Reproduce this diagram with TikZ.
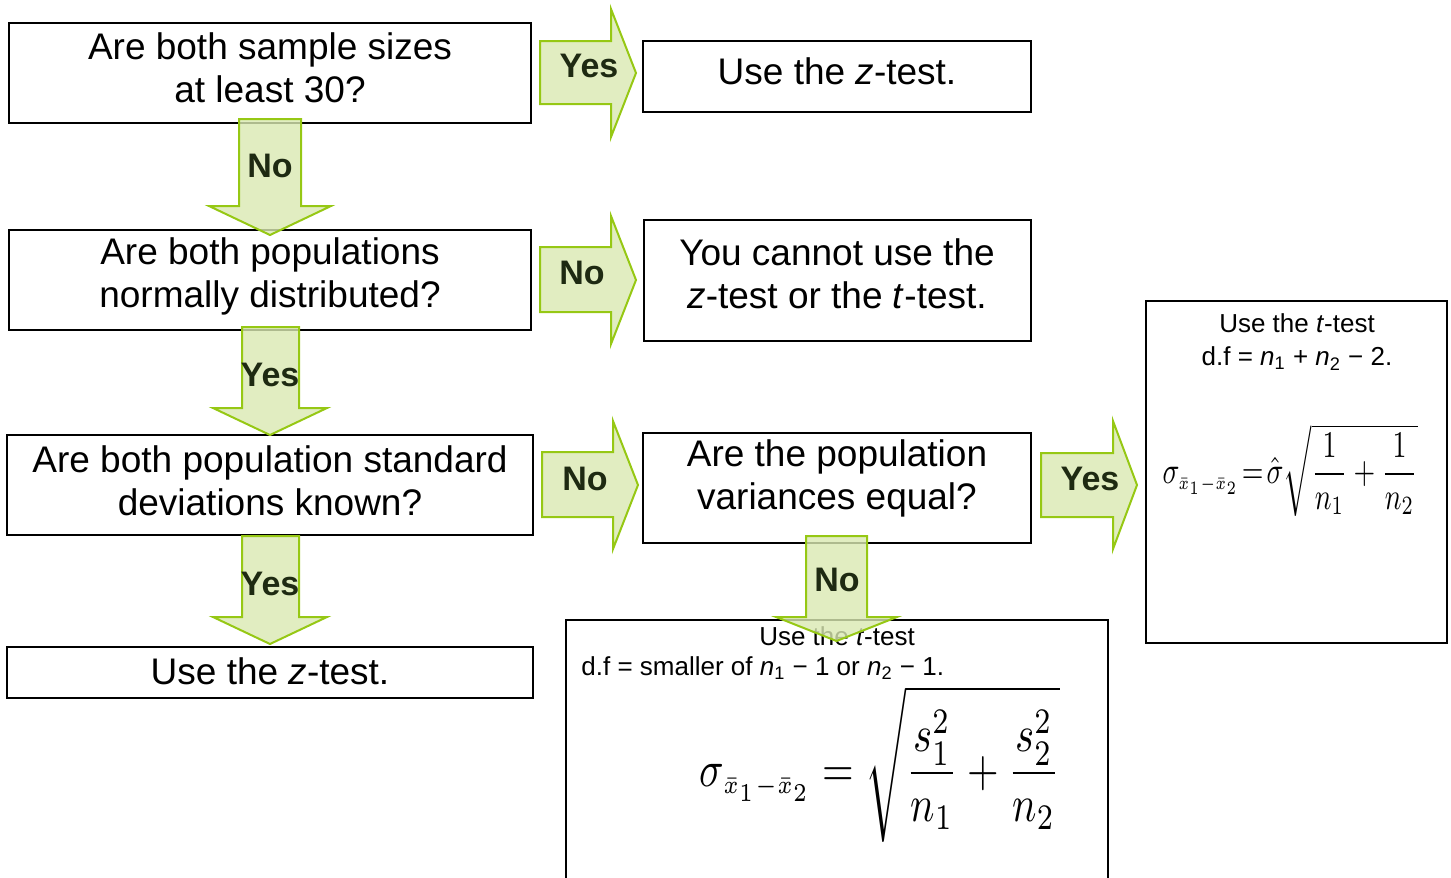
\documentclass[tikz,border=0pt]{standalone}
\usepackage{fontspec}
\setmainfont{Liberation Sans}
\usepackage{amsmath}
\definecolor{arrfill}{RGB}{218,233,178}
\definecolor{arrdraw}{RGB}{150,200,20}
\definecolor{labcol}{RGB}{30,42,18}
\tikzset{
  box/.style={draw=black, line width=1pt, inner sep=0pt},
  boxtext/.style={inner sep=0pt, align=center, font=\fontsize{18.5}{21.5}\selectfont},
  blockarrow/.style={draw=arrdraw, line width=1pt, fill=arrfill, fill opacity=0.8, line join=miter},
  arrlabel/.style={font=\fontsize{17}{20}\selectfont\bfseries, text=labcol, inner sep=0pt},
  smalltext/.style={font=\fontsize{13}{16.5}\selectfont, inner sep=0pt}
}
\newcommand{\rightblock}[7]{% x0 xh xt st sb ht hb
  \draw[blockarrow] (#1,#4) -- (#2,#4) -- (#2,#6) -- (#3,{(#6+#7)/2}) -- (#2,#7) -- (#2,#5) -- (#1,#5) -- cycle;}
\newcommand{\downblock}[7]{% xl xr y0 yh hl hr tip
  \draw[blockarrow] (#1,#3) -- (#2,#3) -- (#2,#4) -- (#6,#4) -- ({(#5+#6)/2},#7) -- (#5,#4) -- (#1,#4) -- cycle;}
\begin{document}
\begin{tikzpicture}[x=0.5pt,y=-0.5pt]
\useasboundingbox (0,0) rectangle (1451,878);
% boxes
\node[box, minimum width=261pt, minimum height=50pt] (b1) at (270,73) {};
\node[box, minimum width=194pt, minimum height=35.5pt] (b2) at (837,76.5) {};
\node[box, minimum width=261pt, minimum height=50pt] (b3) at (270,280) {};
\node[box, minimum width=193.5pt, minimum height=60.5pt] (b4) at (837.5,280.5) {};
\node[box, minimum width=263pt, minimum height=50pt] (b5) at (270,485) {};
\node[box, minimum width=194pt, minimum height=55pt] (b6) at (837,488) {};
\node[box, minimum width=150.5pt, minimum height=171pt] (b7) at (1296.5,472) {};
\node[box, minimum width=263pt, minimum height=25.5pt] (b8) at (270,672.5) {};
\node[box, minimum width=271pt, minimum height=140pt] (b9) at (837,760) {};
% box texts
\node[boxtext] (t1) at (270,68) {Are both sample sizes\\at least 30?};
\node[boxtext] (t2) at (837,71) {Use the \textit{z}-test.};
\node[boxtext] (t3) at (270,276) {Are both populations\\normally distributed?};
\node[boxtext] (t4) at (837,274) {You cannot use the\\\textit{z}-test or the \textit{t}-test.};
\node[boxtext] (t5) at (270,480.5) {Are both population standard\\deviations known?};
\node[boxtext] (t6) at (837,478.5) {Are the population\\variances equal?};
\node[boxtext] (t8) at (270,671) {Use the \textit{z}-test.};
% box 7 content
\node[smalltext, align=center] (t7) at (1297,342) {Use the \textit{t}-test\\d.f = \textit{n}\textsubscript{1} + \textit{n}\textsubscript{2} − 2.};
\node[inner sep=0pt] (f7) at (1290,470) {\resizebox*{127.5pt}{46pt}{$\displaystyle\sigma_{\scriptscriptstyle\bar{x}_{1}-\bar{x}_{2}}\!=\!\hat{\sigma}\sqrt{\frac{1}{n_1}+\frac{1}{n_2}}$}};
% box 9 content
\node[smalltext] (t9a) at (837,636) {Use the \textit{t}-test};
\node[smalltext, anchor=west] (t9b) at (581,668) {d.f = smaller of \textit{n}\textsubscript{1} − 1 or \textit{n}\textsubscript{2} − 1.};
\node[inner sep=0pt] (f9) at (880,764) {\resizebox*{180pt}{78pt}{$\displaystyle\sigma_{\scriptscriptstyle\bar{x}_{1}-\bar{x}_{2}}=\sqrt{\frac{s_1^2}{n_1}+\frac{s_2^2}{n_2}}$}};
% block arrows
\rightblock{540}{611}{636}{41}{104}{9}{137}
\node[arrlabel] (l1) at (589,66) {Yes};
\downblock{239}{301}{119}{206}{209}{331}{235}
\node[arrlabel] (l2) at (270,166) {No};
\rightblock{540}{611}{636}{247}{312}{216}{344}
\node[arrlabel] (l3) at (582,273) {No};
\downblock{242}{299}{327}{408}{213}{327}{435}
\node[arrlabel] (l4) at (270,375) {Yes};
\rightblock{542}{613}{638}{452}{517}{421}{549}
\node[arrlabel] (l5) at (585,479) {No};
\rightblock{1041}{1113}{1137}{453}{517}{421}{549}
\node[arrlabel] (l6) at (1090,479) {Yes};
\downblock{242}{299}{536}{617}{213}{327}{644}
\node[arrlabel] (l7) at (270,584) {Yes};
\downblock{806}{867}{536}{617}{776}{897}{641}
\node[arrlabel] (l8) at (837,580) {No};
\end{tikzpicture}
\end{document}
